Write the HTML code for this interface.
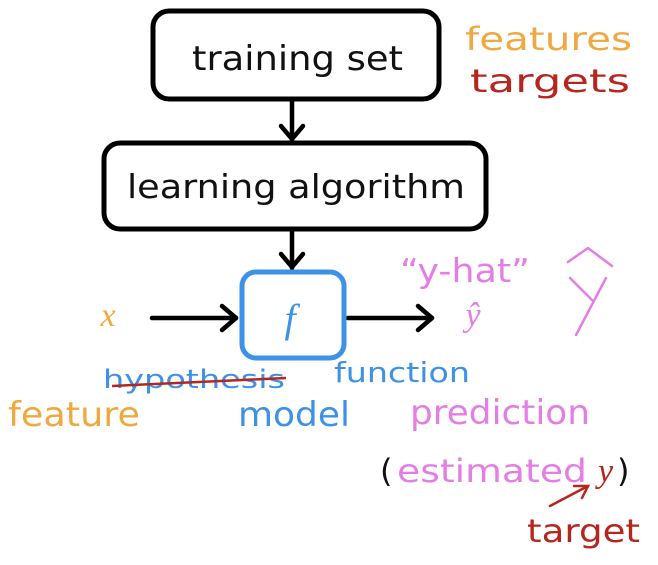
<!DOCTYPE html>
<html><head><style>
body{margin:0;width:658px;height:560px;background:#fff;overflow:hidden}
</style></head><body>
<svg width="658" height="560" xmlns="http://www.w3.org/2000/svg" font-family="DejaVu Sans, Liberation Sans, sans-serif">
<rect x="153" y="11" width="286" height="88" rx="16" fill="none" stroke="#000" stroke-width="5"/>
<text x="192" y="70" font-size="34" textLength="211" lengthAdjust="spacingAndGlyphs" fill="#111">training set</text>
<rect x="104" y="143" width="382" height="86" rx="16" fill="none" stroke="#000" stroke-width="5"/>
<text x="127" y="198" font-size="33" textLength="338" lengthAdjust="spacingAndGlyphs" fill="#111">learning algorithm</text>
<g stroke="#000" stroke-width="4.5" fill="none" stroke-linecap="round" stroke-linejoin="round">
<line x1="292" y1="100" x2="292" y2="140"/><polyline points="281,126 292,139 303,126"/>
<line x1="292" y1="230" x2="292" y2="268"/><polyline points="281,254 292,267 303,254"/>
<line x1="152" y1="318" x2="236" y2="318"/><polyline points="222,306 236,318 222,330"/>
<line x1="348" y1="318" x2="432" y2="318"/><polyline points="418,306 432,318 418,330"/>
</g>
<rect x="242" y="272" width="102" height="86" rx="14" fill="none" stroke="#3d91e6" stroke-width="5"/>
<text x="290" y="332" font-size="40" font-style="italic" font-family="Liberation Serif, serif" fill="#3d91e6" text-anchor="middle">f</text>
<text x="108" y="326" font-size="34" font-style="italic" font-family="Liberation Serif, serif" fill="#f0a840" text-anchor="middle">x</text>
<text x="473" y="326" font-size="34" font-style="italic" font-family="Liberation Serif, serif" fill="#e47ee4" text-anchor="middle">ŷ</text>
<text x="400" y="282" font-size="33" textLength="130" lengthAdjust="spacingAndGlyphs" fill="#e47ee4">“y-hat”</text>
<g stroke="#e47ee4" stroke-width="2.5" fill="none" stroke-linecap="round">
<polyline points="568,262 588,248 612,266"/>
<line x1="570" y1="278" x2="592" y2="300"/><line x1="606" y1="278" x2="576" y2="335"/>
</g>
<text x="465" y="50" font-size="32" textLength="167" lengthAdjust="spacingAndGlyphs" fill="#f0a840">features</text>
<text x="470" y="92" font-size="32" textLength="160" lengthAdjust="spacingAndGlyphs" fill="#b5261e">targets</text>
<text x="103" y="388" font-size="26" textLength="182" lengthAdjust="spacingAndGlyphs" fill="#3d91e6">hypothesis</text>
<line x1="112" y1="386" x2="286" y2="378" stroke="#b5261e" stroke-width="2.5"/>
<text x="334" y="382" font-size="28" textLength="136" lengthAdjust="spacingAndGlyphs" fill="#3d91e6">function</text>
<text x="8" y="426" font-size="34" textLength="132" lengthAdjust="spacingAndGlyphs" fill="#f0a840">feature</text>
<text x="238" y="426" font-size="34" textLength="112" lengthAdjust="spacingAndGlyphs" fill="#3d91e6">model</text>
<text x="410" y="424" font-size="34" textLength="180" lengthAdjust="spacingAndGlyphs" fill="#e47ee4">prediction</text>
<text x="380" y="482" font-size="32" fill="#111">(</text>
<text x="397" y="482" font-size="32" textLength="190" lengthAdjust="spacingAndGlyphs" fill="#e47ee4">estimated</text>
<text x="598" y="482" font-size="34" font-style="italic" font-family="Liberation Serif, serif" fill="#b5261e">y</text>
<text x="617" y="482" font-size="32" fill="#111">)</text>
<g stroke="#b5261e" stroke-width="2.5" fill="none" stroke-linecap="round">
<line x1="550" y1="506" x2="588" y2="486"/><polyline points="574,486 588,486 582,498"/>
</g>
<text x="527" y="542" font-size="32" textLength="113" lengthAdjust="spacingAndGlyphs" fill="#b5261e">target</text>
</svg>
</body></html>
